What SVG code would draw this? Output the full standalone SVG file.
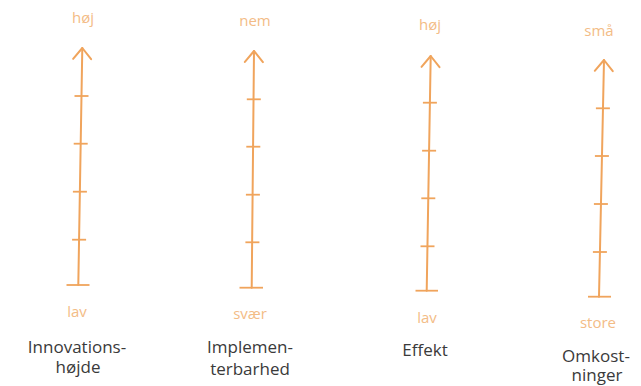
<svg xmlns="http://www.w3.org/2000/svg" width="641" height="386" viewBox="0 0 641 386">
  <defs>
    <marker id="chev" markerUnits="userSpaceOnUse" markerWidth="30" markerHeight="30" viewBox="-15 -15 30 30" refX="0" refY="0" orient="auto">
      <path d="M-11,-9 L0,0 L-11,9" fill="none" stroke="#F0A45C" stroke-width="2" stroke-linecap="round" stroke-linejoin="round"/>
    </marker>
    <style>
      .axis { stroke: #F0A45C; stroke-width: 2; fill: none; stroke-linecap: round; }
      .tick { stroke: #F0A45C; stroke-width: 1.8; fill: none; }
      .end  { font-family: "Open Sans", "Liberation Sans", sans-serif; font-size: 15px; fill: #F3BC86; text-anchor: middle; }
      .title { font-family: "Open Sans", "Liberation Sans", sans-serif; font-size: 17px; fill: #3A3A3A; text-anchor: middle; }
    </style>
  </defs>
  <rect width="641" height="386" fill="#FFFFFF"/>

  <g id="axes">
    <line class="axis" x1="78.3" y1="285" x2="82.3" y2="48" marker-end="url(#chev)"/>
    <line class="axis" x1="251.7" y1="287.7" x2="254" y2="51" marker-end="url(#chev)"/>
    <line class="axis" x1="426.7" y1="290.7" x2="430.7" y2="56" marker-end="url(#chev)"/>
    <line class="axis" x1="599" y1="296.7" x2="604" y2="60" marker-end="url(#chev)"/>
  </g>

  <g id="axis-innovation">
    <line class="tick" x1="74.5" y1="96" x2="88.5" y2="96"/>
    <line class="tick" x1="73.7" y1="143.7" x2="87.7" y2="143.7"/>
    <line class="tick" x1="72.9" y1="191.7" x2="86.9" y2="191.7"/>
    <line class="tick" x1="72.1" y1="239.7" x2="86.1" y2="239.7"/>
    <line class="tick" x1="66.5" y1="285" x2="89.5" y2="285"/>
    <text class="end" x="83" y="23">høj</text>
    <text class="end" x="77" y="317">lav</text>
    <text class="title" x="77" y="353">Innovations-</text>
    <text class="title" x="78" y="373">højde</text>
  </g>

  <g id="axis-implementerbarhed">
    <line class="tick" x1="246.8" y1="99.3" x2="260.8" y2="99.3"/>
    <line class="tick" x1="246.3" y1="146.7" x2="260.3" y2="146.7"/>
    <line class="tick" x1="245.9" y1="194.7" x2="259.9" y2="194.7"/>
    <line class="tick" x1="245.4" y1="242.3" x2="259.4" y2="242.3"/>
    <line class="tick" x1="239.5" y1="287.7" x2="263" y2="287.7"/>
    <text class="end" x="255" y="26">nem</text>
    <text class="end" x="250" y="319">svær</text>
    <text class="title" x="250" y="353">Implemen-</text>
    <text class="title" x="250" y="375">terbarhed</text>
  </g>

  <g id="axis-effekt">
    <line class="tick" x1="422.9" y1="102.7" x2="436.9" y2="102.7"/>
    <line class="tick" x1="422.1" y1="150.7" x2="436.1" y2="150.7"/>
    <line class="tick" x1="421.3" y1="198.3" x2="435.3" y2="198.3"/>
    <line class="tick" x1="420.5" y1="246.3" x2="434.5" y2="246.3"/>
    <line class="tick" x1="415.5" y1="290.7" x2="438" y2="290.7"/>
    <text class="end" x="430" y="30">høj</text>
    <text class="end" x="427" y="323">lav</text>
    <text class="title" x="425" y="356">Effekt</text>
  </g>

  <g id="axis-omkostninger">
    <line class="tick" x1="595.9" y1="108.3" x2="609.9" y2="108.3"/>
    <line class="tick" x1="594.9" y1="156" x2="608.9" y2="156"/>
    <line class="tick" x1="593.9" y1="204" x2="607.9" y2="204"/>
    <line class="tick" x1="592.9" y1="252" x2="606.9" y2="252"/>
    <line class="tick" x1="588" y1="296.7" x2="611" y2="296.7"/>
    <text class="end" x="599" y="36">små</text>
    <text class="end" x="598" y="328">store</text>
    <text class="title" x="596" y="362">Omkost-</text>
    <text class="title" x="597" y="381">ninger</text>
  </g>
</svg>
